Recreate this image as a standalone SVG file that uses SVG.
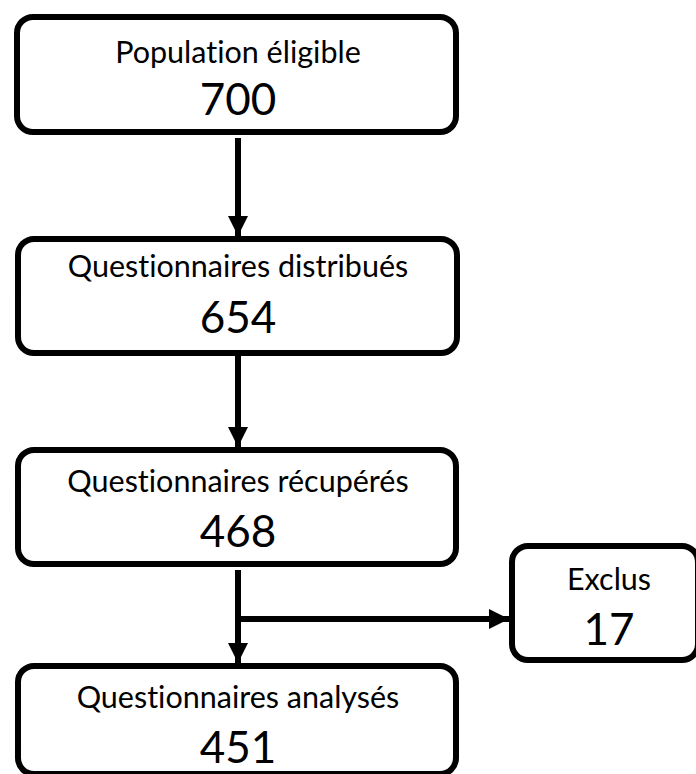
<svg xmlns="http://www.w3.org/2000/svg" width="696" height="774" viewBox="0 0 696 774">
<style>
.box{fill:#fff;stroke:#000;stroke-width:6}
.t{font-family:Lato,"Open Sans","Liberation Sans",sans-serif;font-size:30.5px;text-anchor:middle;fill:#000;font-variant-ligatures:none}
.n{font-family:Lato,"Open Sans","Liberation Sans",sans-serif;font-size:44px;text-anchor:middle;fill:#000}
.c{stroke:#000;stroke-width:6;fill:none}
</style>
<defs>
<marker id="ah" markerUnits="userSpaceOnUse" viewBox="0 0 20 20" refX="20" refY="10" markerWidth="20" markerHeight="20" orient="auto">
<path d="M0,0 L20,10 L0,20 Z" fill="#000"/>
</marker>
</defs>
<rect width="696" height="774" fill="#fff"/>
<g id="connectors">
<line class="c" x1="238" y1="138" x2="238" y2="236" marker-end="url(#ah)"/>
<line class="c" x1="238" y1="356" x2="238" y2="447" marker-end="url(#ah)"/>
<line class="c" x1="238" y1="570" x2="238" y2="663" marker-end="url(#ah)"/>
<line class="c" x1="235" y1="619" x2="509" y2="619" marker-end="url(#ah)"/>
</g>
<g id="n1">
<rect class="box" x="17" y="17" width="439" height="115" rx="16"/>
<text class="t" x="238" y="63">Population éligible</text>
<text class="n" x="238" y="115">700</text>
</g>
<g id="n2">
<rect class="box" x="18" y="239" width="439" height="114" rx="16"/>
<text class="t" x="238" y="277">Questionnaires distribués</text>
<text class="n" x="238" y="333">654</text>
</g>
<g id="n3">
<rect class="box" x="18" y="450" width="438" height="114" rx="16"/>
<text class="t" x="238" y="492">Questionnaires récupérés</text>
<text class="n" x="238" y="547">468</text>
</g>
<g id="n4">
<rect class="box" x="18" y="666" width="438" height="108" rx="16"/>
<text class="t" x="238" y="708">Questionnaires analysés</text>
<text class="n" x="238" y="763">451</text>
</g>
<g id="n5">
<rect class="box" x="512" y="546" width="186" height="114" rx="16"/>
<text class="t" x="609" y="590">Exclus</text>
<text class="n" x="609" y="645">17</text>
</g>
</svg>
